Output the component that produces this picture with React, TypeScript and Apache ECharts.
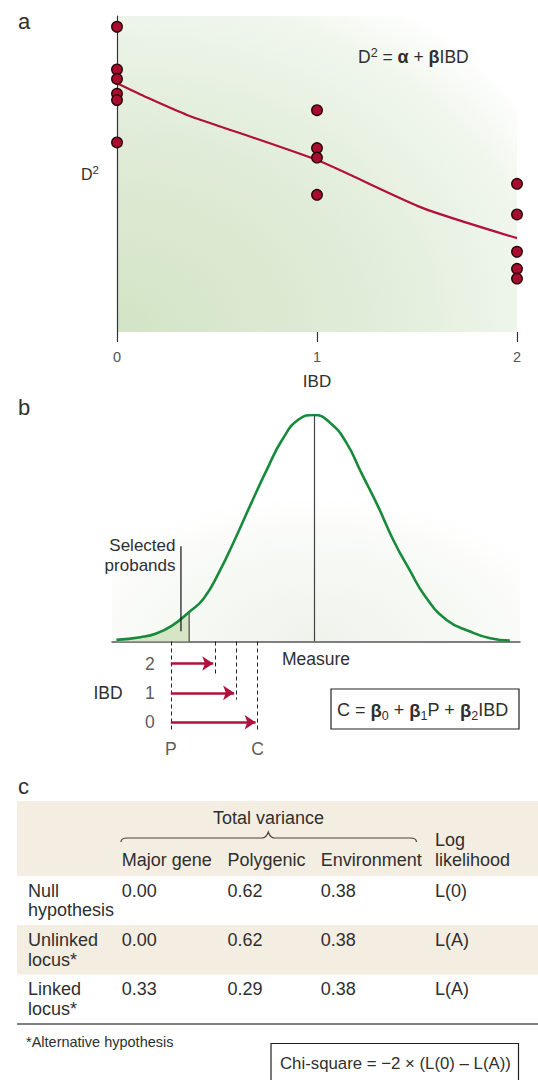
import React, { useEffect, useRef } from "react";
import * as echarts from "echarts";

const FONT = '"Liberation Sans", Arial, Helvetica, sans-serif';
const TXT = "#2f2f2f";
const RED = "#b2103c";
const DOT = "#a80d30";
const GREEN = "#178a3b";

// ---------------- Panel a data ----------------
const ibdTicks = [0, 1, 2];
const d2AtIbd0 = [9.66, 8.31, 8.01, 7.54, 7.34, 6.0];
const d2AtIbd1 = [7.02, 5.82, 5.52, 4.34];
const d2AtIbd2 = [4.69, 3.72, 2.54, 2.0, 1.69];
const fitIbd = [0, 0.15, 0.35, 1, 1.53, 2];
const fitD2 = [7.87, 7.42, 6.87, 5.44, 3.92, 2.97];

// ---------------- Panel b data ----------------
const measureX = [-3.13, -2.75, -2.5, -2.25, -1.98, -1.75, -1.5, -1.25, -1.0, -0.75, -0.5, -0.25, 0, 0.25, 0.5, 0.75, 1.0, 1.25, 1.5, 1.75, 2.09, 2.46, 2.78, 3.09];
const density = [0.007, 0.019, 0.035, 0.07, 0.13, 0.19, 0.31, 0.455, 0.61, 0.76, 0.895, 0.98, 1.0, 0.965, 0.88, 0.74, 0.6, 0.446, 0.318, 0.2, 0.095, 0.044, 0.014, 0.004];
const selectionCut = -1.98;
const probandPointerX = -2.11;
const probandPointerY = [0.045, 0.42];
const probandP = -2.27;
const ibdLevels = [2, 1, 0];
const conditionalC = [-1.57, -1.24, -0.9];
const dashEnds = [1.59, 0.77, -0.35];
const arrowsTop = 2.75;
const arrowsBottom = -0.35;

// ---------------- Panel c data ----------------
const varianceColumns = ["Major gene", "Polygenic", "Environment"];
const hypothesisRows = ["Null\nhypothesis", "Unlinked\nlocus*", "Linked\nlocus*"];
const majorGene = [0.0, 0.0, 0.33];
const polygenic = [0.62, 0.62, 0.29];
const environment = [0.38, 0.38, 0.38];
const logLikelihood = ["L(0)", "L(A)", "L(A)"];

const BRACE_D =
  "M121,842 C121,839.5 123,838 127,838 L262,838 C265,838 267,836 268.3,832 C269.6,836 271.6,838 274.6,838 L410,838 C414,838 416.5,839.5 416.5,842";
echarts.graphic.registerShape("brace", echarts.graphic.extendPath(BRACE_D, {}));

function txt(text: string, x: number, y: number, extra: any = {}) {
  const align = extra.align || "left";
  const va = extra.verticalAlign || "middle";
  return {
    type: "text",
    x,
    y,
    silent: true,
    style: {
      text,
      fill: TXT,
      fontSize: 18,
      fontFamily: FONT,
      ...extra,
      align,
      verticalAlign: va,
      textAlign: align,
      textVerticalAlign: va,
    },
  };
}

function buildOption() {
  const curveData = measureX.map((x, i) => [x, density[i]]);
  const shaded = curveData.filter((p) => p[0] <= selectionCut);
  const cutY = density[measureX.indexOf(selectionCut)];

  const scatterA: number[][] = [];
  [d2AtIbd0, d2AtIbd1, d2AtIbd2].forEach((arr, i) => arr.forEach((v) => scatterA.push([ibdTicks[i], v])));

  const rowFirst = [890.7, 940, 989];
  const colX = [121.7, 227.5, 320.7];
  const logX = 435;
  const fmt = (v: number) => v.toFixed(2);

  const graphic: any[] = [
    txt("a", 18, 21, { fontSize: 22 }),
    txt("b", 18, 407, { fontSize: 22 }),
    txt("c", 18, 786, { fontSize: 22 }),
    {
      type: "text",
      x: 358,
      y: 57,
      silent: true,
      style: {
        text: "{n|D}{sup|2}{n| = }{g|α}{n| + }{g|β}{n|IBD}",
        align: "left",
        verticalAlign: "middle",
        textAlign: "left",
        textVerticalAlign: "middle",
        fill: TXT,
        rich: {
          n: { fontSize: 17.5, fontFamily: FONT, fill: TXT, color: TXT, lineHeight: 22 },
          g: { fontSize: 18, fontFamily: FONT, fill: TXT, color: TXT, fontWeight: "bold", lineHeight: 22 },
          sup: { fontSize: 12.5, fontFamily: FONT, fill: TXT, color: TXT, lineHeight: 12, verticalAlign: "top" },
        },
      },
    },
    txt("Selected\nprobands", 175.5, 555, { align: "right", fontSize: 17, lineHeight: 20 }),
    txt("IBD", 108, 693.3, { align: "center", fontSize: 17.5 }),
    {
      type: "rect",
      silent: true,
      shape: { x: 331, y: 689, width: 188, height: 40 },
      style: { fill: "#fff", stroke: "#222", lineWidth: 1.2 },
    },
    {
      type: "text",
      x: 337,
      y: 710,
      silent: true,
      style: {
        text: "{n|C = }{g|β}{sub|0}{n| + }{g|β}{sub|1}{n|P + }{g|β}{sub|2}{n|IBD}",
        align: "left",
        verticalAlign: "middle",
        textAlign: "left",
        textVerticalAlign: "middle",
        fill: TXT,
        rich: {
          n: { fontSize: 18, fontFamily: FONT, fill: TXT, color: TXT, lineHeight: 24 },
          g: { fontSize: 18.5, fontFamily: FONT, fill: TXT, color: TXT, fontWeight: "bold", lineHeight: 24 },
          sub: { fontSize: 12.5, fontFamily: FONT, fill: TXT, color: TXT, lineHeight: 12, verticalAlign: "bottom" },
        },
      },
    },
    { type: "rect", silent: true, shape: { x: 17, y: 801, width: 521, height: 75 }, style: { fill: "#f4ede1" } },
    { type: "rect", silent: true, shape: { x: 17, y: 925, width: 521, height: 49.5 }, style: { fill: "#f4ede1" } },
    { type: "line", silent: true, shape: { x1: 17, y1: 1024, x2: 538, y2: 1024 }, style: { stroke: "#555", lineWidth: 1.5 } },
    { type: "brace", silent: true, style: { stroke: "#444", fill: null, lineWidth: 1.2 } },
    txt("Total variance", 268.5, 817.5, { align: "center" }),
    ...varianceColumns.map((c, i) => txt(c, colX[i], 859.5)),
    txt("Log\nlikelihood", logX, 849.5, { lineHeight: 20 }),
    txt("*Alternative hypothesis", 26, 1041.5, { fontSize: 14.5 }),
    {
      type: "rect",
      silent: true,
      shape: { x: 271, y: 1043.5, width: 247.5, height: 60 },
      style: { fill: "#fff", stroke: "#222", lineWidth: 1.2 },
    },
    txt("Chi-square = −2 × (L(0) – L(A))", 280, 1063.5, { fontSize: 16.8 }),
  ];

  hypothesisRows.forEach((label, r) => {
    const y = rowFirst[r];
    graphic.push(txt(label, 28, y + 9.75, { lineHeight: 19.5 }));
    graphic.push(txt(fmt(majorGene[r]), colX[0], y));
    graphic.push(txt(fmt(polygenic[r]), colX[1], y));
    graphic.push(txt(fmt(environment[r]), colX[2], y));
    graphic.push(txt(logLikelihood[r], logX, y));
  });

  const gradA = new echarts.graphic.RadialGradient(0, 1, 1.25, [
    { offset: 0, color: "#d2e4c5" },
    { offset: 0.5, color: "#e0ecd8" },
    { offset: 0.85, color: "#f0f6ec" },
    { offset: 1, color: "#ffffff" },
  ]);
  const gradB = new echarts.graphic.RadialGradient(0.5, 1, 0.65, [
    { offset: 0, color: "#f0f3ec" },
    { offset: 0.6, color: "#f7f9f5" },
    { offset: 1, color: "#ffffff" },
  ]);

  const hidden = {
    axisLine: { show: false },
    axisTick: { show: false },
    axisLabel: { show: false },
    splitLine: { show: false },
  };

  return {
    animation: false,
    backgroundColor: "#ffffff",
    textStyle: { fontFamily: FONT },
    graphic,
    grid: [
      { left: 117, top: 16, width: 400, height: 316, show: true, borderWidth: 0, backgroundColor: gradA },
      { left: 112, top: 415, width: 408, height: 226.5, show: true, borderWidth: 0, backgroundColor: gradB },
      { left: 112, top: 641.5, width: 408, height: 91 },
    ],
    xAxis: [
      {
        gridIndex: 0,
        type: "value",
        min: 0,
        max: 2,
        interval: 1,
        axisLine: { show: false },
        axisTick: { show: true, length: 10, lineStyle: { color: "#333", width: 1.2 } },
        axisLabel: { color: "#555", fontSize: 14.5, margin: 17, fontFamily: FONT },
        splitLine: { show: false },
        name: "IBD",
        nameLocation: "middle",
        nameGap: 41,
        nameTextStyle: { color: TXT, fontSize: 17, fontFamily: FONT },
      },
      {
        gridIndex: 1,
        type: "value",
        min: -3.2,
        max: 3.25,
        axisLine: { show: true, onZero: false, lineStyle: { color: "#555", width: 1.5 } },
        axisTick: { show: false },
        axisLabel: { show: false },
        splitLine: { show: false },
        name: "Measure",
        nameLocation: "middle",
        nameGap: 8,
        nameTextStyle: { color: TXT, fontSize: 17.5, fontFamily: FONT },
      },
      { gridIndex: 2, type: "value", min: -3.2, max: 3.25, ...hidden },
    ],
    yAxis: [
      {
        gridIndex: 0,
        type: "value",
        min: 0,
        max: 10,
        axisLine: { show: true, onZero: false, lineStyle: { color: "#333", width: 1.2 } },
        axisTick: { show: false },
        axisLabel: { show: false },
        splitLine: { show: false },
        name: "{n|D}{s|2}",
        nameLocation: "middle",
        nameRotate: 0,
        nameGap: 18,
        nameTextStyle: {
          rich: {
            n: { fontSize: 16, color: TXT, fontFamily: FONT, lineHeight: 20 },
            s: { fontSize: 11.5, color: TXT, fontFamily: FONT, lineHeight: 11, verticalAlign: "top" },
          },
        },
      },
      { gridIndex: 1, type: "value", min: 0, max: 1, ...hidden },
      { gridIndex: 2, type: "value", min: arrowsBottom, max: arrowsTop, ...hidden },
    ],
    series: [
      {
        type: "line",
        xAxisIndex: 0,
        yAxisIndex: 0,
        data: fitIbd.map((x, i) => [x, fitD2[i]]),
        smooth: 0.2,
        showSymbol: false,
        lineStyle: { color: RED, width: 2.2 },
        z: 2,
      },
      {
        type: "scatter",
        xAxisIndex: 0,
        yAxisIndex: 0,
        data: scatterA,
        symbolSize: 10.5,
        clip: false,
        itemStyle: { color: DOT, borderColor: "#2a0508", borderWidth: 1.4, opacity: 1 },
        z: 4,
      },
      {
        type: "line",
        xAxisIndex: 1,
        yAxisIndex: 1,
        data: shaded,
        smooth: 0.5,
        showSymbol: false,
        lineStyle: { width: 0 },
        areaStyle: { color: "#d5e5c6", opacity: 1 },
        z: 2,
      },
      {
        type: "line",
        xAxisIndex: 1,
        yAxisIndex: 1,
        data: [
          [selectionCut, 0],
          [selectionCut, cutY],
        ],
        showSymbol: false,
        lineStyle: { color: "#555", width: 1.3 },
        z: 3,
      },
      {
        type: "line",
        xAxisIndex: 1,
        yAxisIndex: 1,
        data: curveData,
        smooth: 0.5,
        showSymbol: false,
        lineStyle: { color: GREEN, width: 2.6 },
        z: 4,
        markLine: {
          silent: true,
          symbol: ["none", "none"],
          label: { show: false },
          lineStyle: { color: "#444", width: 1.2, type: "solid" },
          data: [[{ coord: [0, 0] }, { coord: [0, 1] }]],
        },
      },
      {
        type: "line",
        xAxisIndex: 1,
        yAxisIndex: 1,
        data: probandPointerY.map((y) => [probandPointerX, y]),
        showSymbol: false,
        lineStyle: { color: "#111", width: 1.2 },
        z: 5,
      },
      {
        type: "lines",
        coordinateSystem: "cartesian2d",
        xAxisIndex: 2,
        yAxisIndex: 2,
        symbol: ["none", "none"],
        lineStyle: { color: "#222", width: 1, type: [4, 3], opacity: 1 },
        data: [probandP, ...conditionalC].map((x, i) => ({
          coords: [
            [x, arrowsTop],
            [x, i === 0 ? arrowsBottom : dashEnds[i - 1]],
          ],
        })),
        z: 2,
      },
      {
        type: "lines",
        coordinateSystem: "cartesian2d",
        xAxisIndex: 2,
        yAxisIndex: 2,
        symbol: ["none", "arrow"],
        symbolSize: [9, 11],
        lineStyle: { color: RED, width: 2.6, opacity: 1 },
        data: ibdLevels.map((lvl, i) => ({
          coords: [
            [probandP, lvl],
            [conditionalC[i] - 0.03, lvl],
          ],
        })),
        z: 4,
      },
      {
        type: "scatter",
        xAxisIndex: 2,
        yAxisIndex: 2,
        clip: false,
        symbolSize: 1,
        itemStyle: { color: "rgba(0,0,0,0)" },
        data: ibdLevels.map((lvl) => [-2.6, lvl]),
        label: {
          show: true,
          position: "inside",
          color: TXT,
          fontSize: 17.5,
          fontFamily: FONT,
          formatter: (p: any) => String(p.data[1]),
        },
      },
      {
        type: "scatter",
        xAxisIndex: 2,
        yAxisIndex: 2,
        clip: false,
        symbolSize: 1,
        itemStyle: { color: "rgba(0,0,0,0)" },
        data: [
          [probandP, arrowsBottom, "P"],
          [conditionalC[2], arrowsBottom, "C"],
        ],
        label: {
          show: true,
          position: "bottom",
          distance: 7,
          color: TXT,
          fontSize: 17.5,
          fontFamily: FONT,
          formatter: (p: any) => p.data[2],
        },
      },
    ],
  };
}

export default function App() {
  const ref = useRef<HTMLDivElement>(null);
  useEffect(() => {
    if (!ref.current) return;
    const chart = echarts.init(ref.current, null, { renderer: "svg" });
    chart.setOption(buildOption() as any);
    return () => chart.dispose();
  }, []);
  return (
    <div
      ref={ref}
      style={{ position: "absolute", left: 0, top: 0, width: 538, height: 1080, background: "#fff" }}
    />
  );
}
